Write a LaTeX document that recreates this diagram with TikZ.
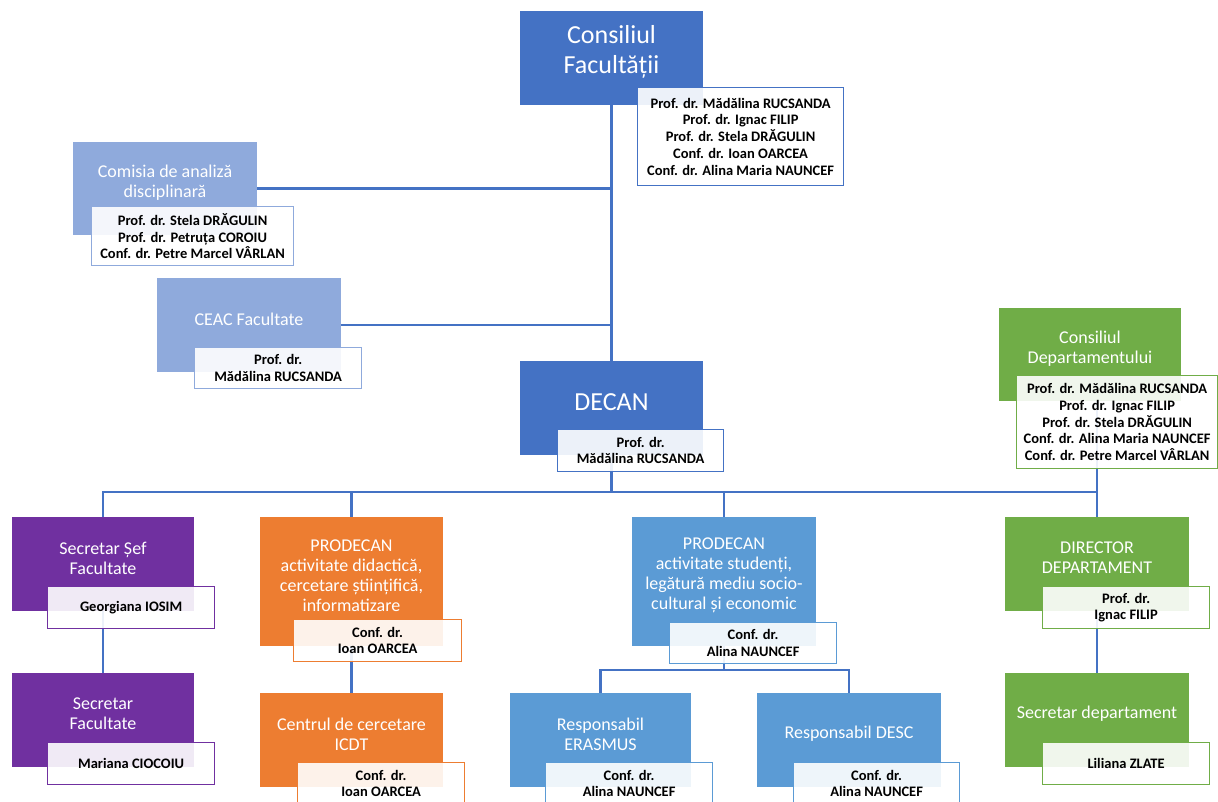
\documentclass[tikz,border=0pt]{standalone}
\usepackage{fontspec}
\setmainfont{Carlito}
\usetikzlibrary{backgrounds}
\definecolor{cfblue}{HTML}{4472C4}
\definecolor{paleblue}{HTML}{8FAADC}
\definecolor{skyblue}{HTML}{5B9BD5}
\definecolor{deptgreen}{HTML}{70AD47}
\definecolor{secpurple}{HTML}{7030A0}
\definecolor{proorange}{HTML}{ED7D31}
\tikzset{
  unitbox/.style={anchor=north west, fill=#1, minimum width=183pt, minimum height=94pt, inner sep=0pt, outer sep=0pt},
  unittext/.style={text=white, align=center, font=\fontsize{18}{20}\selectfont, yshift=6pt},
  bigtext/.style={unittext, font=\fontsize{26}{30}\selectfont},
  namebox/.style={anchor=north west, draw=#1, line width=1.2pt, fill=white, fill opacity=0.9, text opacity=1, align=center, minimum width=167pt, minimum height=42pt, inner sep=0pt, font=\bfseries\fontsize{14.5}{16.7}\selectfont},
  link/.style={draw=cfblue, line width=2.7pt}
}
\begin{document}
\begin{tikzpicture}[x=1pt, y=-1pt]
\useasboundingbox (0,0) rectangle (1218,801);
\node[unitbox=cfblue, label={[bigtext]center:{Consiliul\\Facultății}}] (cf) at (520,11) {};
\node[namebox=cfblue, minimum width=206pt, minimum height=98pt] (cfn) at (637,87) {Prof. dr. Mădălina RUCSANDA\\Prof. dr. Ignac FILIP\\Prof. dr. Stela DRĂGULIN\\Conf. dr. Ioan OARCEA\\Conf. dr. Alina Maria NAUNCEF};
\node[unitbox=paleblue, minimum width=184pt, minimum height=93pt, label={[unittext]center:{Comisia de analiză\\disciplinară}}] (cda) at (73,142) {};
\node[namebox=paleblue, minimum width=202pt, minimum height=59pt] (cdan) at (91,206) {Prof. dr. Stela DRĂGULIN\\Prof. dr. Petruța COROIU\\Conf. dr. Petre Marcel VÂRLAN};
\node[unitbox=paleblue, minimum width=184pt, label={[unittext]center:{CEAC Facultate}}] (ceac) at (157,278) {};
\node[namebox=paleblue, minimum height=41pt] (ceacn) at (194,347) {Prof. dr.\\Mădălina RUCSANDA};
\node[unitbox=cfblue, label={[bigtext]center:{DECAN}}] (decan) at (520,361) {};
\node[namebox=cfblue, minimum width=166pt] (decann) at (557,429) {Prof. dr.\\Mădălina RUCSANDA};
\node[unitbox=deptgreen, minimum width=182pt, minimum height=93pt, label={[unittext]center:{Consiliul\\Departamentului}}] (cdep) at (999,308) {};
\node[namebox=deptgreen, minimum width=201pt, minimum height=93pt] (cdepn) at (1016,375) {Prof. dr. Mădălina RUCSANDA\\Prof. dr. Ignac FILIP\\Prof. dr. Stela DRĂGULIN\\Conf. dr. Alina Maria NAUNCEF\\Conf. dr. Petre Marcel VÂRLAN};
\node[unitbox=secpurple, minimum width=182pt, label={[unittext]center:{Secretar Șef\\Facultate}}] (sss) at (12,517) {};
\node[namebox=secpurple] (sssn) at (47,586) {Georgiana IOSIM};
\node[unitbox=secpurple, minimum width=182pt, label={[unittext]center:{Secretar\\Facultate}}] (sf) at (12,673) {};
\node[namebox=secpurple] (sfn) at (47,742) {Mariana CIOCOIU};
\node[unitbox=proorange, minimum height=129pt, label={[unittext]center:{PRODECAN\\activitate didactică,\\cercetare științifică,\\informatizare}}] (pd) at (260,517) {};
\node[namebox=proorange, minimum width=168pt] (pdn) at (293,619) {Conf. dr.\\Ioan OARCEA};
\node[unitbox=proorange, label={[unittext]center:{Centrul de cercetare\\ICDT}}] (icdt) at (260,693) {};
\node[namebox=proorange] (icdtn) at (297,762) {Conf. dr.\\Ioan OARCEA};
\node[unitbox=skyblue, minimum width=184pt, minimum height=129pt, label={[unittext]center:{PRODECAN\\activitate studenți,\\legătură mediu socio-\\cultural și economic}}] (ps) at (632,517) {};
\node[namebox=skyblue, minimum height=41pt] (psn) at (669,622) {Conf. dr.\\Alina NAUNCEF};
\node[unitbox=skyblue, minimum width=181pt, label={[unittext]center:{Responsabil\\ERASMUS}}] (er) at (510,693) {};
\node[namebox=skyblue] (ern) at (545,762) {Conf. dr.\\Alina NAUNCEF};
\node[unitbox=skyblue, minimum width=184pt, label={[unittext]center:{Responsabil DESC}}] (desc) at (757,693) {};
\node[namebox=skyblue, minimum width=166pt] (descn) at (793,762) {Conf. dr.\\Alina NAUNCEF};
\node[unitbox=deptgreen, minimum width=184pt, label={[unittext]center:{DIRECTOR\\DEPARTAMENT}}] (dd) at (1005,517) {};
\node[namebox=deptgreen] (ddn) at (1042,586) {Prof. dr.\\Ignac FILIP};
\node[unitbox=deptgreen, minimum width=184pt, label={[unittext]center:{Secretar departament}}] (sd) at (1005,673) {};
\node[namebox=deptgreen] (sdn) at (1042,742) {Liliana ZLATE};
\begin{scope}[on background layer]
\draw[link] (cf.south) -- (decan.north);
\draw[link] (cda.east) -- (cda.east -| cf.south);
\draw[link] (ceac.east) -- (ceac.east -| cf.south);
\foreach \c in {sss,pd,ps,dd} \draw[link] (decan.south) -- ++(0,37) -| (\c.north);
\draw[link] (dd.north) -- (dd.north |- cdep.south);
\draw[link] (sss.south) -- (sf.north);
\draw[link] (pd.south) -- (icdt.north);
\foreach \c in {er,desc} \draw[link] (ps.south) -- ++(0,24) -| (\c.north);
\draw[link] (dd.south) -- (sd.north);
\end{scope}
\end{tikzpicture}
\end{document}
